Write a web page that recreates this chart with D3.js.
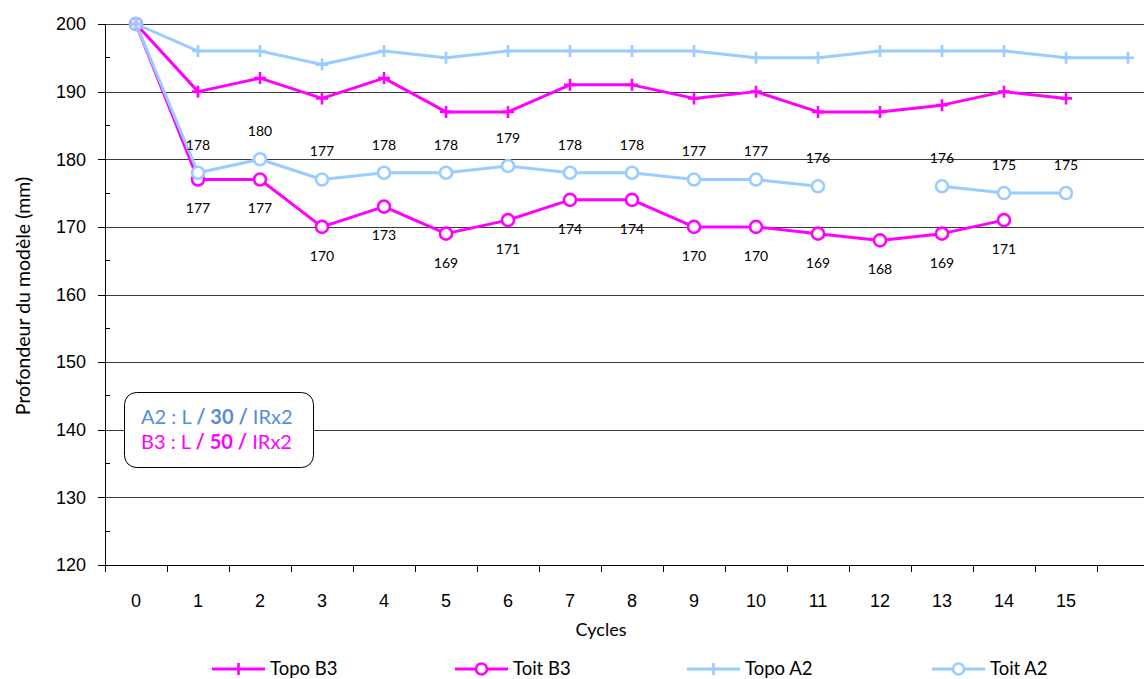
<!DOCTYPE html>
<html><head><meta charset="utf-8">
<script src="https://cdn.jsdelivr.net/npm/d3@7"></script>
<style>
html,body{margin:0;padding:0;background:#fff;}
svg{display:block;font-family:Lato,"Open Sans",sans-serif;}
</style></head>
<body><svg id="c" width="1144" height="679"></svg>
<script>
const cycles = ["0","1","2","3","4","5","6","7","8","9","10","11","12","13","14","15",""];
const topoB3 = [200,190,192,189,192,187,187,191,191,189,190,187,187,188,190,189,null];
const toitB3 = [200,177,177,170,173,169,171,174,174,170,170,169,168,169,171,null,null];
const topoA2 = [200,196,196,194,196,195,196,196,196,196,195,195,196,196,196,195,195];
const toitA2 = [200,178,180,177,178,178,179,178,178,177,177,176,null,176,175,175,null];
const yTicks = [120,130,140,150,160,170,180,190,200];
const yMinor = [125,135,145,155,165,175,185,195];
const seriesNames = ["Topo B3","Toit B3","Topo A2","Toit A2"];

const MAG = "#FF00FF", BLUE = "#99CCFF";
const series = [
  {name: seriesNames[0], values: topoB3, color: MAG, marker: "plus"},
  {name: seriesNames[1], values: toitB3, color: MAG, marker: "circle", labelDy: 29},
  {name: seriesNames[2], values: topoA2, color: BLUE, marker: "plus"},
  {name: seriesNames[3], values: toitA2, color: BLUE, marker: "circle", labelDy: -28}
];

const svg = d3.select("#c");
const pLeft = 105, pTop = 24, pBottom = 565;
const x = d3.scaleBand().domain(cycles.map((c,i)=>i)).range([pLeft, pLeft + 62*cycles.length]).paddingInner(0).paddingOuter(0);
const cx = i => x(i) + x.bandwidth()/2;
const y = d3.scaleLinear().domain([120,200]).range([pBottom, pTop]);

// gridlines
svg.append("g").selectAll("line").data(yTicks.slice(1)).join("line")
  .attr("x1", pLeft).attr("x2", x.range()[1]).attr("y1", d=>Math.round(y(d))+0.5).attr("y2", d=>Math.round(y(d))+0.5)
  .attr("stroke", "#3a3a3a").attr("stroke-width", 1);

// y axis
const yAxis = svg.append("g").attr("transform", `translate(${pLeft},0)`)
  .call(d3.axisLeft(y).tickValues(yTicks).tickSize(7).tickPadding(12).tickFormat(d3.format("d")));
yAxis.selectAll("text").attr("font-size", 18).attr("fill", "#000");
yAxis.selectAll("line,path").attr("stroke", "#000").attr("shape-rendering","crispEdges");
svg.append("g").selectAll("line").data(yMinor).join("line")
  .attr("x1", pLeft).attr("x2", pLeft+5).attr("y1", d=>y(d)).attr("y2", d=>y(d))
  .attr("stroke", "#000").attr("shape-rendering","crispEdges");

// x axis
const xAxis = svg.append("g").attr("transform", `translate(0,${pBottom})`)
  .call(d3.axisBottom(x).tickSize(0).tickPadding(29).tickFormat(i => cycles[i]));
xAxis.selectAll("text").attr("font-size", 18).attr("fill", "#000");
xAxis.select("path").attr("stroke", "#000").attr("shape-rendering","crispEdges");
const bounds = cycles.map((c,i)=>x(i)).concat([x.range()[1]]);
svg.append("g").selectAll("line").data(bounds).join("line")
  .attr("x1", d=>d).attr("x2", d=>d).attr("y1", pBottom).attr("y2", pBottom+7)
  .attr("stroke", "#000").attr("shape-rendering","crispEdges");

// axis titles
svg.append("text").attr("x", 601).attr("y", 636).attr("text-anchor","middle")
  .attr("font-size", 18).text("Cycles");
svg.append("text").attr("transform", "translate(30,296) rotate(-90)").attr("text-anchor","middle")
  .attr("font-size", 19.5).text("Profondeur du modèle (mm)");

// lines
const line = d3.line().defined(d => d.v != null).x(d => cx(d.i)).y(d => y(d.v));
series.forEach(s => {
  svg.append("path").datum(s.values.map((v,i)=>({i,v})))
    .attr("d", line).attr("fill","none").attr("stroke", s.color).attr("stroke-width", 3)
    .attr("stroke-linejoin","round");
});
// circle markers
series.filter(s=>s.marker==="circle").forEach(s => {
  svg.append("g").selectAll("circle").data(s.values.map((v,i)=>({i,v})).filter(d=>d.v!=null)).join("circle")
    .attr("cx", d=>cx(d.i)).attr("cy", d=>y(d.v)).attr("r", 6)
    .attr("fill", "#fff").attr("stroke", s.color).attr("stroke-width", 2.6);
});
// plus markers
series.filter(s=>s.marker==="plus").forEach(s => {
  svg.append("g").selectAll("path").data(s.values.map((v,i)=>({i,v})).filter(d=>d.v!=null)).join("path")
    .attr("d", d => { const px=cx(d.i), py=y(d.v); return `M${px-6},${py}H${px+6}M${px},${py-6}V${py+6}`; })
    .attr("fill","none").attr("stroke", s.color).attr("stroke-width", 2.6);
});
// data labels
series.filter(s=>s.labelDy).forEach(s => {
  svg.append("g").selectAll("text").data(s.values.map((v,i)=>({i,v})).filter(d=>d.v!=null && d.i>0)).join("text")
    .attr("x", d=>cx(d.i)).attr("y", d=>y(d.v)+s.labelDy).attr("dy","0.35em")
    .attr("text-anchor","middle").attr("font-size", 14).attr("fill","#000").text(d=>d.v);
});

// annotation box
svg.append("rect").attr("x",124.5).attr("y",392.5).attr("width",189).attr("height",75).attr("rx",12)
  .attr("fill","#fff").attr("stroke","#000").attr("stroke-width",1);
const ann = [
  {pre:"A2 : L ", num:"30", post:" IRx2", color:"#558ED5"},
  {pre:"B3 : L ", num:"50", post:" IRx2", color:"#FF00FF"}
];
ann.forEach((a,k) => {
  const t = svg.append("text").attr("x", 141).attr("y", 417 + k*25).attr("dy","0.35em")
    .attr("font-size", 20).attr("fill", a.color);
  t.append("tspan").text(a.pre);
  t.append("tspan").attr("font-weight","bold").text("/ ");
  t.append("tspan").attr("font-weight","bold").text(a.num);
  t.append("tspan").attr("font-weight","bold").text(" /");
  t.append("tspan").text(a.post);
});

// legend
const legX = [212, 455, 687, 932];
series.forEach((s,k) => {
  const g = svg.append("g").attr("transform", `translate(${legX[k]},669)`);
  g.append("line").attr("x1",0).attr("x2",53).attr("stroke", s.color).attr("stroke-width",3);
  if (s.marker==="plus") g.append("path").attr("d","M26.5,-6V6").attr("stroke", s.color).attr("stroke-width",2.6);
  else g.append("circle").attr("cx",26.5).attr("r",5.5).attr("fill","#fff").attr("stroke", s.color).attr("stroke-width",2.6);
  g.append("text").attr("x",58).attr("dy","0.35em").attr("font-size",18.5).attr("fill","#000").text(s.name);
});
</script></body></html>
